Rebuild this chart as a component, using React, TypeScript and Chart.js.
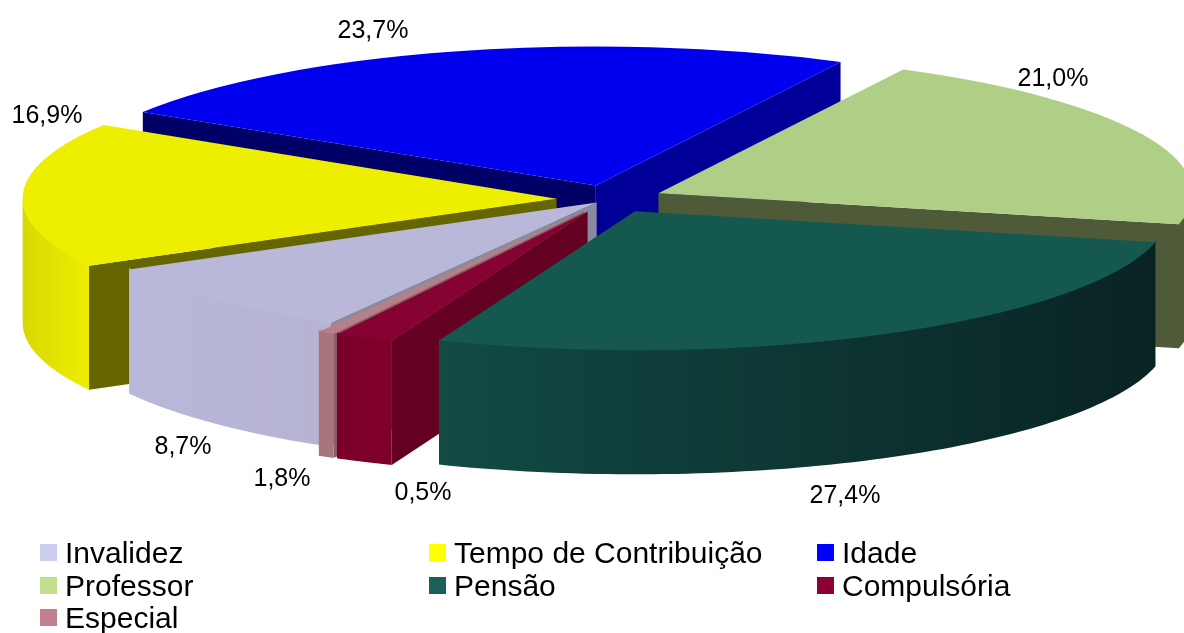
import React, { useEffect, useRef } from "react";
import { Chart, registerables } from "chart.js";

Chart.register(...registerables);

const categories = ["Invalidez", "Tempo de Contribuição", "Idade", "Professor", "Pensão", "Compulsória", "Especial"];
const shares = [8.7, 16.9, 23.7, 21.0, 27.4, 1.8, 0.5];

const topColors = ["#b9b8d8", "#eeee00", "#0000ee", "#b0cf86", "#145850", "#850232", "#b78088"];
const legendColors = ["#ccccee", "#ffff00", "#0000ff", "#c0e090", "#1a6058", "#8c0033", "#c08090"];
const wallLeft = ["#b9b8d8", "#d8d800", "#000099", "#4f5a38", "#124a44", "#7a0029", "#a8757d"];
const wallRight = ["#b6b3d3", "#eeee00", "#000099", "#4f5a38", "#092323", "#80002b", "#a8757d"];
const startFace = ["#8a8aa2", "#666600", "#000066", "#4f5a38", "#0a2a28", "#640022", "#8a6068"];
const endFace = ["#8a8aa2", "#666600", "#000099", "#4f5a38", "#0a2a28", "#640022", "#8a6068"];
const explode = [0.035, 0.1, 0.1, 0.1, 0.1, 0.1, 0.1];

const labelAnchors = [
  [183, 447], [47, 116], [373, 31], [1053, 79], [845, 496], [282, 479], [423, 493],
];
const legendColumns = [40, 429, 817];
const legendRows = [553, 586, 618];

const ROTATION = 209.8;
const CX = 610;
const CY = 199;
const RX = 534;
const RY = 139;
const DEPTH = 124;
const WALL_OVERLAP = 1.5;

function intersectFront(s: number, e: number): [number, number] | null {
  for (let k = -2; k <= 2; k++) {
    const lo = Math.max(s, k * 2 * Math.PI);
    const hi = Math.min(e, k * 2 * Math.PI + Math.PI);
    if (hi > lo) return [lo, hi];
  }
  return null;
}

const pie3d = {
  id: "pie3d",
  beforeDatasetsDraw(chart: any) {
    const ctx = chart.ctx;
    const arcs = chart.getDatasetMeta(0).data;
    const r = arcs[0].outerRadius;
    const sx = RX / r;
    const sy = RY / r;
    const ox = arcs[0].x;
    const oy = arcs[0].y;
    const map = (x: number, y: number) => [CX + x * sx, CY + y * sy];

    const order = arcs
      .map((a: any, i: number) => {
        const mid = (a.startAngle + a.endAngle) / 2;
        return { a, i, ax: Math.cos(mid) * explode[i] * r, ay: Math.sin(mid) * explode[i] * r, mid };
      })
      .sort((p: any, q: any) => Math.sin(p.mid) - Math.sin(q.mid));

    // Cut faces first: they always sit behind the curved outer walls.
    for (const { a, i, ax, ay } of order) {
      const apex = map(ax, ay);
      const face = (t: number, color: string) => {
        const p = map(ax + Math.cos(t) * r, ay + Math.sin(t) * r);
        ctx.beginPath();
        ctx.moveTo(apex[0], apex[1]);
        ctx.lineTo(p[0], p[1]);
        ctx.lineTo(p[0], p[1] + DEPTH);
        ctx.lineTo(apex[0], apex[1] + DEPTH);
        ctx.closePath();
        ctx.fillStyle = color;
        ctx.fill();
      };
      if (Math.cos(a.startAngle) < 0) face(a.startAngle, startFace[i]);
      if (Math.cos(a.endAngle) > 0) face(a.endAngle, endFace[i]);
    }

    for (const { a, i, ax, ay } of order) {
      const range = intersectFront(a.startAngle, a.endAngle);
      if (!range) continue;
      const steps = 80;
      const pts: number[][] = [];
      for (let k = 0; k <= steps; k++) {
        const t = range[0] + ((range[1] - range[0]) * k) / steps;
        pts.push(map(ax + Math.cos(t) * r, ay + Math.sin(t) * r));
      }
      const xs = pts.map((p) => p[0]);
      const g = ctx.createLinearGradient(Math.min(...xs), 0, Math.max(...xs), 0);
      g.addColorStop(0, wallLeft[i]);
      g.addColorStop(1, wallRight[i]);
      ctx.beginPath();
      pts.forEach((p, k) =>
        k ? ctx.lineTo(p[0], p[1] - WALL_OVERLAP) : ctx.moveTo(p[0], p[1] - WALL_OVERLAP)
      );
      for (let k = steps; k >= 0; k--) ctx.lineTo(pts[k][0], pts[k][1] + DEPTH);
      ctx.closePath();
      ctx.fillStyle = g;
      ctx.fill();
    }

    // Top faces: the library's own arc elements, tilted and pulled apart.
    for (const { a, ax, ay } of order) {
      ctx.save();
      ctx.translate(CX, CY);
      ctx.scale(sx, sy);
      ctx.translate(ax - ox, ay - oy);
      a.draw(ctx);
      ctx.restore();
    }
    return false;
  },
  afterDraw(chart: any) {
    const ctx = chart.ctx;
    ctx.save();
    ctx.fillStyle = "#000000";
    ctx.textAlign = "center";
    ctx.textBaseline = "middle";
    ctx.font = '25px "Liberation Sans"';
    shares.forEach((v, i) => {
      ctx.fillText(v.toFixed(1).replace(".", ",") + "%", labelAnchors[i][0], labelAnchors[i][1]);
    });
    ctx.textAlign = "left";
    ctx.font = '30px "Liberation Sans"';
    categories.forEach((name, i) => {
      const x = legendColumns[i % 3];
      const y = legendRows[Math.floor(i / 3)];
      ctx.fillStyle = legendColors[i];
      ctx.fillRect(x, y - 9, 17, 17);
      ctx.fillStyle = "#000000";
      ctx.fillText(name, x + 25, y + 2);
    });
    ctx.restore();
  },
};

export default function App() {
  const ref = useRef<HTMLCanvasElement>(null);
  useEffect(() => {
    document.body.style.margin = "0";
    const chart = new Chart(ref.current!, {
      type: "pie",
      data: {
        labels: categories,
        datasets: [
          {
            data: shares,
            backgroundColor: topColors,
            borderWidth: 0,
            hoverOffset: 0,
            clip: false,
          } as any,
        ],
      },
      options: {
        responsive: false,
        animation: false,
        rotation: ROTATION,
        events: [],
        layout: { padding: 0 },
        plugins: { legend: { display: false }, tooltip: { enabled: false } },
      },
      plugins: [pie3d],
    } as any);
    return () => chart.destroy();
  }, []);
  return <canvas ref={ref} width={1184} height={633} style={{ display: "block", background: "#ffffff" }} />;
}
